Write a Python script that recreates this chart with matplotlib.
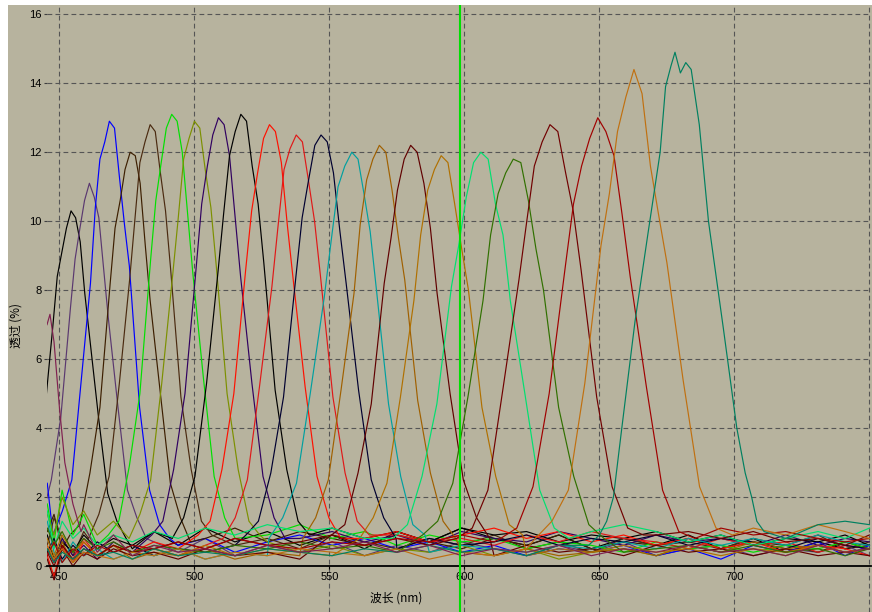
import matplotlib.pyplot as plt
from matplotlib.patches import Rectangle

plt.rcParams['font.family'] = ['Liberation Sans', 'DejaVu Sans']

bg = '#b7b39e'

# one colour per filter curve, left to right
colors = ['#000000', '#5a3870', '#0000ff', '#3c1e00', '#4a2a10', '#00e000',
          '#7c9000', '#300060', '#000000', '#ff1000', '#e01818', '#000030',
          '#00a0a0', '#a06000', '#600000', '#b07000', '#00e070', '#307000',
          '#700000', '#a00000', '#c07010', '#008060', '#802050']

# peak region of each curve: wavelength (nm) and transmission (%)
peak_wl = [
    [440.7, 444.1, 447.5, 449.2, 450.9, 452.6, 454.3, 456.0, 457.7, 459.4, 461.1, 464.5, 467.9, 471.3, 474.7],
    [443.5, 447.0, 450.5, 454.1, 455.8, 457.6, 459.3, 461.1, 462.9, 464.6, 466.4, 468.1, 471.7, 475.2, 478.7, 482.2],
    [447.6, 451.1, 454.6, 458.1, 461.5, 463.3, 465.0, 466.8, 468.5, 470.4, 472.2, 474.1, 475.9, 479.7, 483.4, 487.1, 490.8],
    [453.9, 457.6, 461.3, 465.0, 468.8, 470.6, 472.5, 474.3, 476.2, 478.1, 479.9, 481.8, 483.6, 487.4, 491.1, 494.8, 498.5],
    [460.8, 464.6, 468.4, 472.2, 476.0, 477.9, 479.8, 481.7, 483.6, 485.5, 487.4, 489.3, 491.2, 495.0, 498.8, 502.6, 506.4],
    [468.1, 472.0, 475.9, 479.8, 483.8, 485.7, 487.7, 489.6, 491.6, 493.6, 495.5, 497.5, 499.4, 503.4, 507.3, 511.2, 515.1],
    [475.8, 479.8, 483.8, 487.9, 491.9, 493.9, 496.0, 498.0, 500.0, 502.0, 504.0, 506.1, 508.1, 512.1, 516.2, 520.2, 524.2],
    [484.2, 488.3, 492.3, 496.5, 500.7, 502.7, 504.8, 506.8, 508.9, 511.0, 513.0, 515.1, 517.1, 521.3, 525.4, 529.5, 533.6],
    [491.8, 496.0, 500.2, 504.5, 508.7, 510.8, 513.0, 515.1, 517.2, 519.3, 521.4, 523.6, 525.7, 529.9, 534.2, 538.4, 542.6],
    [501.4, 505.8, 510.2, 514.6, 519.0, 521.2, 523.4, 525.6, 527.8, 530.0, 532.2, 534.4, 536.6, 541.0, 545.4, 549.8, 554.2],
    [510.6, 515.1, 519.6, 524.1, 528.7, 530.9, 533.2, 535.4, 537.7, 540.0, 542.2, 544.5, 546.7, 551.3, 555.8, 560.3, 564.8],
    [519.1, 523.7, 528.3, 533.0, 537.6, 539.9, 542.3, 544.6, 546.9, 549.2, 551.5, 553.9, 556.2, 560.8, 565.5, 570.1, 574.7],
    [527.6, 532.7, 537.8, 542.9, 548.1, 550.6, 553.2, 555.7, 558.3, 560.6, 562.8, 565.1, 567.3, 571.9, 576.4, 580.9, 585.4],
    [540.2, 544.9, 549.6, 554.3, 559.1, 561.4, 563.8, 566.1, 568.5, 570.9, 573.2, 575.6, 577.9, 582.7, 587.4, 592.1, 596.8],
    [550.8, 555.7, 560.6, 565.5, 570.3, 572.8, 575.2, 577.7, 580.1, 582.5, 585.0, 587.4, 589.9, 594.7, 599.6, 604.5, 609.4],
    [561.2, 566.2, 571.3, 576.3, 581.3, 583.8, 586.4, 588.9, 591.4, 593.9, 596.4, 599.0, 601.5, 606.5, 611.6, 616.6, 621.6],
    [573.5, 578.9, 584.3, 589.8, 595.2, 597.9, 600.7, 603.4, 606.1, 608.8, 611.5, 614.3, 617.0, 622.4, 627.9, 633.3, 638.7],
    [584.5, 590.1, 595.7, 601.3, 606.9, 609.7, 612.5, 615.3, 618.1, 620.9, 623.7, 626.5, 629.3, 634.9, 640.5, 646.1, 651.7],
    [597.1, 602.9, 608.7, 614.4, 620.2, 623.1, 625.9, 628.8, 631.7, 634.6, 637.5, 640.3, 643.2, 649.0, 654.7, 660.5, 666.3],
    [613.4, 619.4, 625.4, 631.4, 637.4, 640.4, 643.4, 646.4, 649.4, 652.4, 655.4, 658.4, 661.4, 667.4, 673.4, 679.4, 685.4],
    [626.3, 632.4, 638.5, 644.6, 650.6, 653.7, 656.7, 659.8, 662.8, 665.8, 668.9, 671.9, 675.0, 681.0, 687.1, 693.2, 699.3],
    [646.0, 650.0, 652.7, 655.2, 658.3, 663.2, 668.1, 672.5, 674.5, 676.5, 678.0, 680.0, 682.0,
     684.0, 687.0, 690.4, 695.9, 700.9, 704.0, 706.4, 708.3, 711.0],
    [445.4, 446.5, 448.0, 450.0, 452.0, 455.0, 458.0],
]
peak_t = [
    [2.3, 4.1, 6.9, 8.4, 9.1, 9.8, 10.3, 10.1, 9.4, 7.9, 6.7, 4.3, 2.1, 1.3, 0.8],
    [1.4, 2.5, 4.3, 7.5, 8.9, 9.8, 10.6, 11.1, 10.7, 10.1, 8.6, 7.2, 4.6, 2.2, 1.4, 0.8],
    [0.9, 1.6, 2.5, 5.4, 8.2, 10.4, 11.8, 12.3, 12.9, 12.7, 11.3, 9.9, 8.7, 4.6, 2.2, 1.2, 0.8],
    [0.9, 1.2, 2.7, 4.6, 8.2, 9.8, 10.6, 11.5, 12.0, 11.9, 11.1, 9.3, 7.7, 5.0, 2.4, 1.4, 0.7],
    [0.8, 1.5, 2.6, 5.3, 8.3, 10.0, 11.7, 12.3, 12.8, 12.6, 11.4, 10.3, 8.6, 4.9, 2.8, 1.3, 0.9],
    [0.9, 1.3, 2.9, 5.0, 8.9, 10.6, 11.7, 12.7, 13.1, 12.9, 12.0, 10.2, 8.5, 5.4, 2.6, 1.4, 0.8],
    [0.8, 1.5, 2.5, 5.3, 8.4, 10.0, 11.8, 12.4, 12.9, 12.7, 11.5, 10.4, 8.7, 5.0, 2.8, 1.3, 0.9],
    [0.9, 1.3, 2.8, 5.0, 8.7, 10.5, 11.6, 12.5, 13.0, 12.8, 11.9, 10.1, 8.4, 5.3, 2.6, 1.4, 0.8],
    [0.8, 1.4, 2.6, 5.3, 8.5, 10.2, 11.9, 12.6, 13.1, 12.9, 11.6, 10.5, 8.8, 5.1, 2.8, 1.3, 0.9],
    [0.9, 1.3, 2.8, 5.0, 8.6, 10.3, 11.4, 12.4, 12.8, 12.6, 11.7, 9.9, 8.3, 5.2, 2.6, 1.4, 0.8],
    [0.8, 1.4, 2.5, 5.2, 8.1, 9.8, 11.5, 12.1, 12.5, 12.3, 11.2, 10.0, 8.4, 4.9, 2.7, 1.3, 0.9],
    [0.9, 1.3, 2.7, 4.9, 8.4, 10.1, 11.2, 12.2, 12.5, 12.3, 11.4, 9.7, 8.2, 5.1, 2.5, 1.4, 0.8],
    [0.8, 1.4, 2.4, 5.0, 7.8, 9.4, 11.0, 11.6, 12.0, 11.8, 10.8, 9.7, 8.1, 4.7, 2.6, 1.2, 0.9],
    [0.8, 1.4, 2.5, 5.1, 7.9, 9.9, 11.2, 11.8, 12.2, 12.0, 10.9, 9.5, 8.3, 4.8, 2.7, 1.3, 0.8],
    [0.9, 1.2, 2.7, 4.7, 8.2, 9.5, 10.9, 11.8, 12.2, 12.0, 11.1, 9.8, 7.9, 5.0, 2.5, 1.4, 0.8],
    [0.8, 1.4, 2.4, 4.9, 7.7, 9.6, 10.9, 11.5, 11.9, 11.7, 10.5, 9.2, 8.0, 4.6, 2.6, 1.2, 0.9],
    [0.8, 1.2, 2.6, 4.7, 8.1, 9.3, 10.7, 11.7, 12.0, 11.8, 10.5, 9.6, 7.7, 5.0, 2.2, 1.1, 0.8],
    [0.9, 1.3, 2.4, 4.9, 7.7, 9.6, 10.8, 11.4, 11.8, 11.7, 10.6, 9.2, 8.0, 4.6, 2.6, 1.2, 0.8],
    [0.8, 1.1, 2.2, 5.2, 8.3, 10.0, 11.6, 12.3, 12.8, 12.6, 11.4, 10.3, 8.6, 4.9, 2.3, 1.1, 0.9],
    [0.8, 1.1, 2.3, 5.0, 8.7, 10.5, 11.6, 12.4, 13.0, 12.6, 11.9, 10.2, 8.4, 5.2, 2.2, 1.0, 0.8],
    [0.8, 1.3, 2.2, 5.3, 9.3, 10.8, 12.6, 13.6, 14.4, 13.7, 11.6, 10.2, 8.8, 5.4, 2.3, 1.1, 0.9],
    [0.6, 0.9, 1.3, 2.0, 4.0, 7.1, 9.7, 12.0, 13.9, 14.5, 14.9, 14.3, 14.6,
     14.4, 12.8, 10.0, 6.9, 4.0, 2.7, 2.0, 1.3, 1.0],
    [7.0, 7.3, 6.5, 4.6, 3.0, 1.8, 1.0],
]

# noisy floor of each curve, read on a coarse wavelength grid
base_wl = [445.5, 448, 451, 455, 459, 464, 470, 477, 485, 494, 504, 515, 527, 539, 551, 563,
           575, 587, 599, 611, 623, 635, 647, 659, 671, 683, 695, 707, 719, 731, 741, 750]
base_t = [
    [1.2, 0.3, 1.6, 0.5, 1.1, 0.4, 0.9, 0.5, 1.0, 0.6, 1.1, 0.7, 1.0, 0.6, 0.9, 0.5,
     1.0, 0.7, 1.1, 0.8, 0.6, 0.9, 0.5, 0.8, 0.6, 0.9, 0.5, 0.8, 0.4, 0.7, 0.5, 0.6],
    [2.1, 0.6, 1.4, 0.3, 1.0, 0.4, 0.9, 0.3, 0.7, 0.4, 0.8, 0.3, 0.6, 0.4, 0.7, 0.3,
     0.6, 0.4, 0.7, 0.5, 0.3, 0.6, 0.4, 0.7, 0.3, 0.5, 0.6, 0.3, 0.5, 0.4, 0.6, 0.3],
    [2.4, 1.0, 1.8, 0.7, 1.3, 0.6, 1.0, 0.5, 1.1, 0.6, 0.8, 0.4, 0.7, 0.9, 0.6, 0.8,
     0.5, 0.7, 0.4, 0.6, 0.3, 0.5, 0.4, 0.6, 0.3, 0.5, 0.2, 0.6, 0.4, 0.7, 0.3, 0.6],
    [1.0, 1.5, 0.5, 1.2, 0.7, 1.1, 0.6, 0.9, 0.7, 1.0, 0.8, 1.1, 0.7, 1.0, 0.8, 0.6,
     0.9, 0.7, 0.5, 0.8, 0.6, 0.9, 0.5, 0.7, 0.6, 0.8, 0.5, 0.7, 0.6, 0.4, 0.7, 0.5],
    [0.6, 1.4, 0.8, 0.3, 1.0, 0.6, 0.9, 0.4, 0.8, 0.5, 0.9, 0.6, 0.8, 0.5, 0.9, 0.7,
     0.5, 0.8, 0.6, 0.9, 0.5, 0.7, 0.4, 0.8, 0.6, 0.7, 0.5, 0.8, 0.6, 0.9, 0.5, 0.7],
    [1.8, 0.7, 2.2, 0.9, 1.5, 0.6, 1.2, 0.7, 1.0, 0.8, 1.1, 0.7, 0.9, 1.2, 0.8, 1.0,
     0.6, 0.9, 0.7, 0.8, 0.5, 0.7, 0.6, 0.4, 0.7, 0.5, 0.6, 0.4, 0.6, 0.5, 0.7, 0.5],
    [1.5, 0.9, 2.0, 1.2, 1.6, 0.9, 1.3, 0.8, 1.0, 0.6, 0.8, 0.5, 0.7, 0.4, 0.6, 0.3,
     0.5, 0.4, 0.6, 0.3, 0.5, 0.2, 0.4, 0.5, 0.3, 0.6, 0.4, 0.5, 0.3, 0.6, 0.4, 0.5],
    [0.5, 0.1, 0.8, 0.3, 0.6, 0.2, 0.7, 0.4, 0.8, 0.6, 0.9, 0.7, 1.1, 0.8, 1.0, 0.7,
     0.9, 0.6, 1.0, 0.8, 0.7, 1.0, 0.8, 0.6, 0.9, 0.7, 0.8, 0.6, 0.9, 0.6, 0.8, 0.7],
    [0.9, 0.2, 0.7, 0.4, 0.9, 0.5, 0.8, 0.6, 1.0, 0.7, 1.1, 0.8, 1.2, 0.9, 1.1, 0.8,
     1.0, 0.7, 1.1, 0.9, 1.0, 0.7, 0.9, 0.8, 1.0, 0.7, 0.9, 0.6, 0.8, 0.7, 0.9, 0.6],
    [0.3, -0.3, 0.6, 0.1, 0.7, 0.3, 0.6, 0.4, 0.7, 0.5, 0.8, 0.6, 0.9, 0.7, 1.1, 0.8,
     1.0, 0.7, 0.9, 1.1, 0.8, 1.0, 0.7, 0.9, 0.6, 0.8, 0.5, 0.7, 0.4, 0.6, 0.5, 0.3],
    [0.6, 0.1, 0.5, 0.2, 0.8, 0.3, 0.6, 0.4, 0.5, 0.3, 0.6, 0.4, 0.7, 0.5, 0.8, 0.6,
     0.9, 0.7, 0.8, 0.6, 0.9, 0.7, 1.0, 0.8, 0.7, 0.5, 0.8, 0.6, 0.7, 0.4, 0.6, 0.5],
    [0.4, 0.8, 0.2, 0.6, 0.3, 0.7, 0.4, 0.6, 0.3, 0.5, 0.4, 0.6, 0.3, 0.5, 0.4, 0.7,
     0.5, 0.8, 0.6, 0.7, 0.9, 0.6, 0.8, 0.7, 0.9, 0.6, 0.8, 0.7, 0.5, 0.8, 0.6, 0.5],
    [1.3, 0.4, 0.1, 0.7, 0.3, 0.5, 0.2, 0.4, 0.3, 0.5, 0.2, 0.4, 0.3, 0.5, 0.4, 0.3,
     0.5, 0.4, 0.6, 0.5, 0.4, 0.6, 0.5, 0.7, 0.5, 0.8, 0.6, 0.8, 0.6, 0.9, 0.7, 0.6],
    [0.5, 0.2, 0.7, 0.1, 0.5, 0.3, 0.6, 0.2, 0.4, 0.3, 0.5, 0.2, 0.4, 0.3, 0.5, 0.3,
     0.4, 0.2, 0.4, 0.3, 0.5, 0.3, 0.4, 0.5, 0.3, 0.6, 0.4, 0.7, 0.5, 0.6, 0.4, 0.5],
    [0.2, -0.4, 0.5, 0.0, 0.4, 0.2, 0.5, 0.3, 0.4, 0.2, 0.5, 0.3, 0.4, 0.2, 0.5, 0.3,
     0.4, 0.6, 0.5, 0.3, 0.6, 0.4, 0.5, 0.3, 0.6, 0.4, 0.5, 0.3, 0.5, 0.3, 0.4, 0.3],
    [0.8, 0.3, 0.9, 0.4, 0.7, 0.3, 0.6, 0.4, 0.5, 0.3, 0.6, 0.3, 0.5, 0.4, 0.3, 0.5,
     0.4, 0.3, 0.5, 0.4, 0.3, 0.5, 0.4, 0.6, 0.4, 0.5, 0.3, 0.5, 0.4, 0.6, 0.4, 0.5],
    [1.6, 0.5, 1.3, 0.8, 1.1, 0.6, 0.9, 0.7, 1.0, 0.8, 1.1, 0.9, 1.2, 1.0, 1.1, 0.8,
     1.0, 0.9, 0.8, 1.0, 0.9, 1.1, 1.0, 1.2, 1.0, 0.7, 0.9, 0.6, 0.8, 1.0, 0.8, 1.1],
    [1.1, 0.6, 1.0, 0.4, 0.8, 0.5, 0.7, 0.4, 0.6, 0.5, 0.4, 0.6, 0.5, 0.7, 0.5, 0.6,
     0.4, 0.6, 0.5, 0.7, 0.5, 0.4, 0.6, 0.4, 0.5, 0.6, 0.4, 0.6, 0.4, 0.5, 0.3, 0.5],
    [0.4, 0.0, 0.6, 0.2, 0.5, 0.3, 0.6, 0.4, 0.5, 0.7, 0.5, 0.8, 0.6, 0.7, 0.9, 0.6,
     0.8, 0.6, 0.7, 0.9, 0.7, 0.6, 0.8, 0.7, 0.9, 1.0, 0.8, 1.0, 0.7, 0.8, 0.6, 0.9],
    [0.3, 0.7, 0.1, 0.5, 0.3, 0.6, 0.4, 0.6, 0.5, 0.7, 0.5, 0.8, 0.6, 0.5, 0.7, 0.6,
     0.8, 0.7, 0.9, 0.7, 0.8, 0.9, 0.7, 0.8, 1.0, 0.9, 1.1, 0.9, 1.0, 0.8, 0.7, 0.8],
    [0.6, 0.2, 0.5, 0.1, 0.4, 0.3, 0.2, 0.4, 0.3, 0.5, 0.2, 0.4, 0.3, 0.5, 0.4, 0.3,
     0.5, 0.2, 0.4, 0.3, 0.5, 0.4, 0.3, 0.5, 0.4, 0.6, 0.8, 1.1, 0.9, 1.2, 1.0, 0.8],
    [0.5, 0.1, 0.4, 0.2, 0.5, 0.3, 0.4, 0.2, 0.5, 0.3, 0.4, 0.3, 0.5, 0.4, 0.3, 0.5,
     0.4, 0.6, 0.4, 0.5, 0.3, 0.6, 0.4, 0.5, 0.6, 0.4, 0.7, 0.9, 0.8, 1.2, 1.3, 1.2],
    [6.9, 5.5, 3.6, 2.0, 1.2, 0.4, 0.9, 0.3, 0.6, 0.4, 0.5, 0.3, 0.6, 0.4, 0.5, 0.7,
     0.4, 0.6, 0.3, 0.5, 0.4, 0.6, 0.3, 0.5, 0.4, 0.6, 0.4, 0.5, 0.3, 0.6, 0.4, 0.5],
]

marker_wl = 598.5
x_ticks = [450, 500, 550, 600, 650, 700]
x_grid = [450, 500, 550, 600, 650, 700, 750]
y_ticks = [0, 2, 4, 6, 8, 10, 12, 14, 16]

fig = plt.figure(figsize=(8.72, 6.12), dpi=100, facecolor='white')
fig.patches.append(Rectangle((8 / 872, 0), 1, 607 / 612, transform=fig.transFigure,
                             facecolor=bg, edgecolor='none', zorder=-10))
ax = fig.add_axes([47 / 872, 0, 824 / 872, 607 / 612])
ax.set_facecolor(bg)

for x in x_grid:
    ax.axvline(x, color='#555555', lw=0.8, dashes=(4.3, 2.9), zorder=1)
for y in y_ticks[1:]:
    ax.axhline(y, color='#555555', lw=0.8, dashes=(4.3, 2.9), zorder=1)

for i in range(len(colors)):
    x0, x1 = peak_wl[i][0], peak_wl[i][-1]
    left = [(w, t) for w, t in zip(base_wl, base_t[i]) if w < x0]
    right = [(w, t) for w, t in zip(base_wl, base_t[i]) if w > x1]
    xs = [p[0] for p in left] + peak_wl[i] + [p[0] for p in right]
    ys = [p[1] for p in left] + peak_t[i] + [p[1] for p in right]
    ax.plot(xs, ys, color=colors[i], lw=0.85, zorder=2)

ax.axvline(marker_wl, color='#00e000', lw=1.5, zorder=5)

ax.set_xlim(445.4, 750.6)
ax.set_ylim(-1.333, 16.27)

for s in ['left', 'right', 'top']:
    ax.spines[s].set_visible(False)
ax.spines['bottom'].set_position(('data', 0))
ax.spines['bottom'].set_linewidth(1.3)
ax.spines['bottom'].set_zorder(4)

ax.set_xticks(x_ticks)
ax.set_yticks(y_ticks)
ax.tick_params(axis='x', length=2.5, width=0.8, pad=2, labelsize=8)
ax.tick_params(axis='y', length=2.5, width=0.8, pad=1.5, labelsize=8, color='#404040')

fig.text(396 / 872, 1 - 598 / 612, '波长 (nm)', ha='center', va='center', fontsize=8.5,
         family=['Noto Sans CJK SC', 'DejaVu Sans'])
fig.text(15.7 / 872, 1 - 326 / 612, '透过 (%)', ha='center', va='center', rotation=90,
         fontsize=8.5, family=['Noto Sans CJK SC', 'DejaVu Sans'])

fig.savefig('out.png', dpi=100, facecolor=fig.get_facecolor())
